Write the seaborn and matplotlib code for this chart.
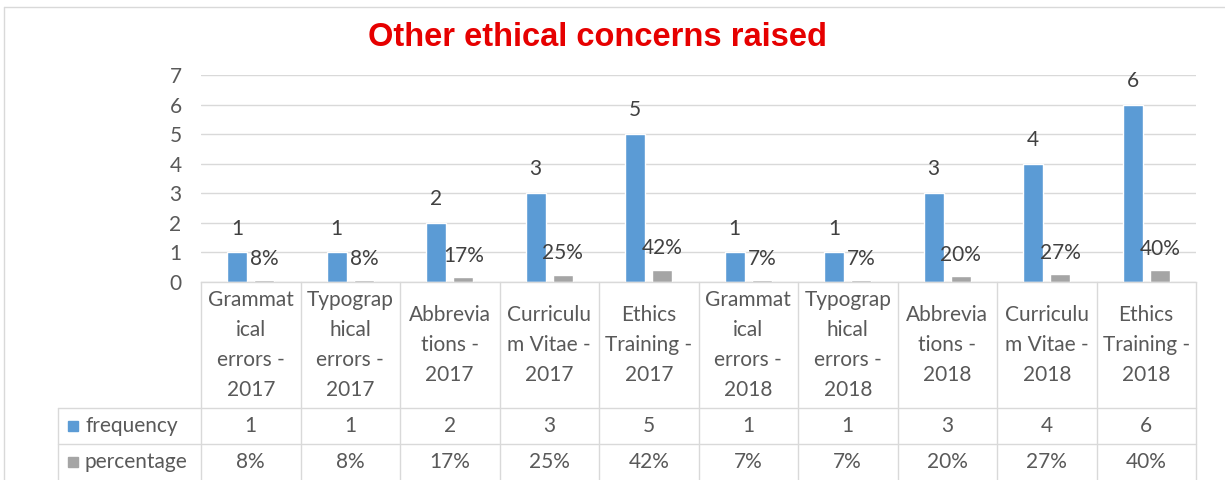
import matplotlib
matplotlib.use("Agg")
import matplotlib.pyplot as plt
import matplotlib.transforms as mtransforms
from matplotlib.lines import Line2D
import seaborn as sns
import pandas as pd

# ---- data ----
categories = ["Grammatical errors - 2017", "Typographical errors - 2017",
              "Abbreviations - 2017", "Curriculum Vitae - 2017",
              "Ethics Training - 2017", "Grammatical errors - 2018",
              "Typographical errors - 2018", "Abbreviations - 2018",
              "Curriculum Vitae - 2018", "Ethics Training - 2018"]
category_lines = ["Grammat\nical\nerrors -\n2017", "Typograp\nhical\nerrors -\n2017",
                  "Abbrevia\ntions -\n2017", "Curriculu\nm Vitae -\n2017",
                  "Ethics\nTraining -\n2017", "Grammat\nical\nerrors -\n2018",
                  "Typograp\nhical\nerrors -\n2018", "Abbrevia\ntions -\n2018",
                  "Curriculu\nm Vitae -\n2018", "Ethics\nTraining -\n2018"]
frequency = [1, 1, 2, 3, 5, 1, 1, 3, 4, 6]
percentage = [0.08, 0.08, 0.17, 0.25, 0.42, 0.07, 0.07, 0.20, 0.27, 0.40]
series_names = ["frequency", "percentage"]
yticks = [0, 1, 2, 3, 4, 5, 6, 7]
title = "Other ethical concerns raised"

freq_labels = [str(v) for v in frequency]
pct_labels = [f"{round(v * 100)}%" for v in percentage]

BLUE = "#5B9BD5"
GRAY = "#A5A5A5"
TXT = "#595959"
GRID = "#D9D9D9"

df = pd.DataFrame({
    "category": categories * 2,
    "value": frequency + percentage,
    "series": [series_names[0]] * len(categories) + [series_names[1]] * len(categories),
})

sns.set_theme(style="white")
plt.rcParams["font.family"] = ["Lato", "DejaVu Sans"]

W, H = 1225, 480
fig = plt.figure(figsize=(W / 100, H / 100), dpi=100, facecolor="white")
ax_l, ax_r, ax_b, ax_t = 201, 1196, 282, 75
ax = fig.add_axes([ax_l / W, 1 - ax_b / H, (ax_r - ax_l) / W, (ax_b - ax_t) / H])

sns.barplot(data=df, x="category", y="value", hue="series", order=categories,
            hue_order=series_names, palette=[BLUE, GRAY], width=0.55, gap=0.27,
            saturation=1, legend=False, ax=ax)

for cont, labs, pad in zip(ax.containers, [freq_labels, pct_labels], [10, 8]):
    ax.bar_label(cont, labels=labs, padding=pad, fontsize=15, color="#404040")

ax.set_xlim(-0.5, len(categories) - 0.5)
ax.set_ylim(0, 7)
ax.set_yticks(yticks)
ax.set_yticklabels([str(t) for t in yticks], fontsize=15, color=TXT)
ax.tick_params(axis="y", length=0, pad=14)
ax.set_xticks([])
ax.set_xlabel("")
ax.set_ylabel("")
ax.grid(axis="y", color=GRID, linewidth=1)
ax.set_axisbelow(True)
for s in ["top", "right", "left"]:
    ax.spines[s].set_visible(False)
ax.spines["bottom"].set_color(GRID)
ax.spines["bottom"].set_linewidth(1)

# ---- data table ----
px_per_ax = ax_b - ax_t
col_px = (ax_r - ax_l) / len(categories)
def ay(py):
    return (ax_b - py) / px_per_ax
def dx(px):
    return (px - ax_l) / col_px - 0.5

tr = mtransforms.blended_transform_factory(ax.transData, ax.transAxes)
y_hdr_bot, y_frq_bot, y_end = ay(408), ay(444), ay(482)
x_left = dx(58)
lkw = dict(color=GRID, linewidth=1, transform=tr, clip_on=False)
for i in range(len(categories) + 1):
    ax.add_line(Line2D([i - 0.5, i - 0.5], [0, y_end], **lkw))
ax.add_line(Line2D([x_left, x_left], [y_hdr_bot, y_end], **lkw))
for yy in [y_hdr_bot, y_frq_bot]:
    ax.add_line(Line2D([x_left, len(categories) - 0.5], [yy, yy], **lkw))

for i, lab in enumerate(category_lines):
    ax.text(i, ay(345), lab, transform=tr, ha="center", va="center",
            fontsize=15, color=TXT, linespacing=1.62, clip_on=False)
    ax.text(i, ay(426), freq_labels[i], transform=tr, ha="center", va="center",
            fontsize=15, color=TXT, clip_on=False)
    ax.text(i, ay(462), pct_labels[i], transform=tr, ha="center", va="center",
            fontsize=15, color=TXT, clip_on=False)

for name, col, py in [(series_names[0], BLUE, 426), (series_names[1], GRAY, 462)]:
    ax.add_line(Line2D([dx(73)], [ay(py)], marker="s", markersize=7.5,
                       markerfacecolor=col, markeredgecolor=col, linestyle="none",
                       transform=tr, clip_on=False))
    ax.text(dx(85), ay(py), name, transform=tr, ha="left", va="center",
            fontsize=15, color=TXT, clip_on=False)

# ---- title and chart border ----
fig.text(597 / W, 1 - 38 / H, title, ha="center", va="center", fontsize=23.5,
         fontweight="bold", color="#E60000",
         family=["Liberation Sans", "DejaVu Sans"])
fig.add_artist(Line2D([4 / W, 1], [1 - 7 / H, 1 - 7 / H], color=GRID, linewidth=1,
                      transform=fig.transFigure))
fig.add_artist(Line2D([4 / W, 4 / W], [0, 1 - 7 / H], color=GRID, linewidth=1,
                      transform=fig.transFigure))

fig.savefig("out.png", dpi=100, facecolor="white")
